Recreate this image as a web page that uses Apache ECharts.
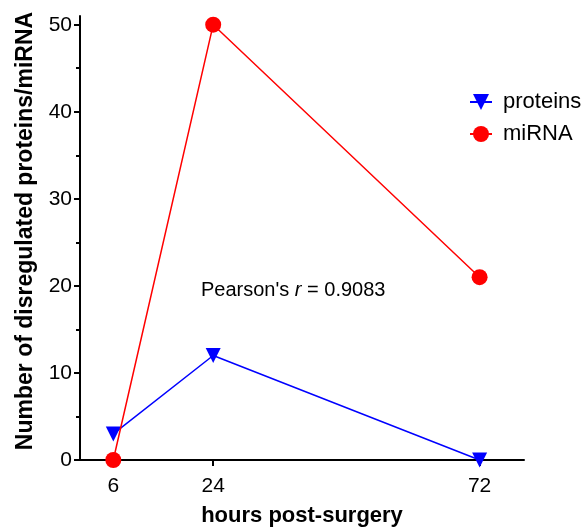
<!DOCTYPE html>
<html><head><meta charset="utf-8">
<script src="https://cdn.jsdelivr.net/npm/echarts@6/dist/echarts.min.js"></script>
<style>html,body{margin:0;padding:0;background:#fff}#c{width:585px;height:529px}</style>
</head><body><div id="c"></div>
<script>
const hours = [6, 24, 72];
const xTickLabels = [6, 24, 72];
const yTickLabels = [0, 10, 20, 30, 40, 50];
const proteins = [3, 12, 0];
const miRNA = [0, 50, 21];
const seriesNames = ['proteins', 'miRNA'];

const FONT = '"Liberation Sans", Arial, sans-serif';
const chart = echarts.init(document.getElementById('c'), null, {renderer: 'canvas'});
chart.setOption({
  animation: false,
  grid: {left: 80, right: 61, top: 16, bottom: 69, containLabel: false, outerBoundsMode: 'none'},
  legend: {
    orient: 'vertical', left: 464, top: 86, itemGap: 10, itemWidth: 22, itemHeight: 20,
    textStyle: {fontFamily: FONT, fontSize: 22, color: '#000', padding: [0, 0, 0, 6]},
    data: seriesNames
  },
  xAxis: {
    type: 'value', min: 0, max: 80,
    name: 'hours post-surgery', nameLocation: 'middle', nameGap: 45,
    nameTextStyle: {fontFamily: FONT, fontSize: 22, fontWeight: 'bold', color: '#000'},
    axisLine: {show: true, lineStyle: {color: '#000', width: 2}},
    axisTick: {show: true, customValues: xTickLabels, length: 6, lineStyle: {color: '#000', width: 2}},
    axisLabel: {customValues: xTickLabels, fontFamily: FONT, fontSize: 21, color: '#000', margin: 16},
    splitLine: {show: false}
  },
  yAxis: {
    type: 'value', min: 0, max: 51,
    name: 'Number of disregulated proteins/miRNA', nameLocation: 'middle', nameGap: 43,
    nameTextStyle: {fontFamily: FONT, fontSize: 23, fontWeight: 'bold', color: '#000', padding: [0, 0, 0, 14]},
    axisLine: {show: true, lineStyle: {color: '#000', width: 2}},
    axisTick: {show: true, customValues: yTickLabels, length: 6, lineStyle: {color: '#000', width: 2}},
    minorTick: {show: true, splitNumber: 2, length: 4, lineStyle: {color: '#000', width: 2}},
    axisLabel: {customValues: yTickLabels, fontFamily: FONT, fontSize: 21, color: '#000', margin: 8},
    splitLine: {show: false}
  },
  graphic: [{
    type: 'text', left: 201, top: 280,
    style: {
      text: "{a|Pearson's }{b|r}{a| = 0.9083}",
      rich: {
        a: {fontFamily: FONT, fontSize: 20, fill: '#000'},
        b: {fontFamily: FONT, fontSize: 20, fontStyle: 'italic', fill: '#000'}
      }
    }
  }],
  series: [
    {
      name: seriesNames[0], type: 'line', data: hours.map((h, i) => [h, proteins[i]]),
      symbol: 'triangle', symbolRotate: 180, symbolSize: 15,
      lineStyle: {color: '#0000ff', width: 1.5}, itemStyle: {color: '#0000ff'},
      clip: false, z: 2
    },
    {
      name: seriesNames[1], type: 'line', data: hours.map((h, i) => [h, miRNA[i]]),
      symbol: 'circle', symbolSize: 16,
      lineStyle: {color: '#ff0000', width: 1.5}, itemStyle: {color: '#ff0000'},
      clip: false, z: 3
    }
  ]
});
</script></body></html>
